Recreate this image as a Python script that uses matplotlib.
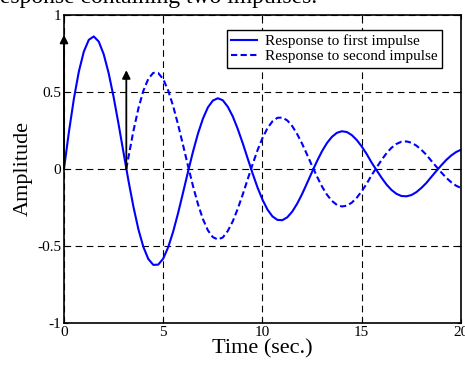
import numpy as np
import matplotlib
matplotlib.use('Agg')
from matplotlib import pyplot as plt

plt.rcParams['font.family'] = 'Liberation Serif'
plt.rcParams['axes.unicode_minus'] = False

# response to first impulse, read every 0.25 s from t = 0 to 20
t1 = np.arange(0, 20.25, 0.25)
y1 = [0.0, 0.241, 0.456, 0.632, 0.761, 0.837, 0.859, 0.826, 0.744, 0.621,
      0.466, 0.290, 0.105, -0.078, -0.247, -0.393, -0.507, -0.585, -0.623,
      -0.621, -0.582, -0.508, -0.407, -0.286, -0.153, -0.018, 0.112, 0.229,
      0.326, 0.399, 0.443, 0.458, 0.445, 0.403, 0.341, 0.260, 0.168, 0.069,
      -0.029, -0.121, -0.200, -0.264, -0.308, -0.331, -0.333, -0.314, -0.277,
      -0.225, -0.162, -0.091, -0.019, 0.051, 0.115, 0.168, 0.208, 0.234,
      0.244, 0.239, 0.219, 0.187, 0.145, 0.096, 0.040, -0.009, -0.058,
      -0.102, -0.137, -0.162, -0.176, -0.178, -0.170, -0.151, -0.124,
      -0.092, -0.053, -0.015, 0.022, 0.057, 0.086, 0.109, 0.124]

# response to second impulse, starts at t = pi
t2 = [3.14] + list(np.arange(3.25, 20.25, 0.25))
y2 = [0.0, 0.078, 0.247, 0.393, 0.507, 0.585, 0.623, 0.621, 0.582, 0.508,
      0.407, 0.286, 0.153, 0.018, -0.112, -0.229, -0.326, -0.399, -0.443,
      -0.458, -0.445, -0.403, -0.341, -0.260, -0.168, -0.069, 0.029, 0.121,
      0.200, 0.264, 0.308, 0.331, 0.333, 0.314, 0.277, 0.225, 0.162, 0.091,
      0.019, -0.051, -0.115, -0.168, -0.208, -0.234, -0.244, -0.239, -0.219,
      -0.187, -0.145, -0.096, -0.040, 0.009, 0.058, 0.102, 0.137, 0.162,
      0.176, 0.178, 0.170, 0.151, 0.124, 0.092, 0.053, 0.015, -0.022,
      -0.057, -0.086, -0.109, -0.124]

# impulses (time, height of arrow)
imp_t = [0.0, 3.14]
imp_h = [0.87, 0.64]

xticks = [0, 5, 10, 15, 20]
yticks = [-1, -0.5, 0, 0.5, 1]
ylabels = ['-1', '-0.5', '0', '0.5', '1']

fig = plt.figure(figsize=(4.65, 3.65), dpi=100)
ax = fig.add_axes([0.1376, 0.115, 0.8538, 0.8447])

ax.plot(t1, y1, color='#0000ff', lw=1.5, label='Response to first impulse')
ax.plot(t2, y2, color='#0000ff', lw=1.5, ls=(0, (3, 1.6)),
        label='Response to second impulse')

for ti, hi in zip(imp_t, imp_h):
    ax.annotate('', xy=(ti, hi), xytext=(ti, 0),
                arrowprops=dict(arrowstyle='-|>', color='k', lw=1.3,
                                mutation_scale=12, shrinkA=0, shrinkB=0),
                annotation_clip=False, zorder=5)

ax.set_xlim(0, 20)
ax.set_ylim(-1, 1)
ax.set_xticks(xticks)
ax.set_yticks(yticks)
ax.set_yticklabels(ylabels)
ax.tick_params(direction='in', length=3, width=0.8, labelsize=11, pad=2,
               top=True, right=True)
ax.grid(True, color='k', lw=0.8, ls=(0, (6, 4)))
for s in ax.spines.values():
    s.set_linewidth(1.2)

ax.set_xlabel('Time (sec.)', fontsize=16, labelpad=0)
ax.set_ylabel('Amplitude', fontsize=16, labelpad=3)

leg = ax.legend(loc='upper right', bbox_to_anchor=(0.952, 0.951),
                borderaxespad=0, fontsize=11, fancybox=False, framealpha=1,
                edgecolor='k', handlelength=1.7, labelspacing=0.1,
                borderpad=0.3, handletextpad=0.5)
leg.get_frame().set_linewidth(1.0)

# caption text cut off at the top of the picture
fig.text(-8 / 465, 1 - 3 / 365, 'response containing two impulses.',
         fontsize=17, va='baseline', ha='left')

fig.savefig('out.png', dpi=100)
